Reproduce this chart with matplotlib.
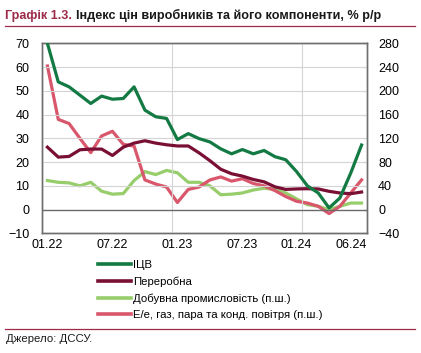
import numpy as np
import matplotlib
matplotlib.use('Agg')
import matplotlib.pyplot as plt
from matplotlib.lines import Line2D

plt.rcParams['font.family'] = ['Liberation Sans', 'DejaVu Sans']

months = ['01.22', '02.22', '03.22', '04.22', '05.22', '06.22', '07.22', '08.22', '09.22', '10.22',
          '11.22', '12.22', '01.23', '02.23', '03.23', '04.23', '05.23', '06.23', '07.23', '08.23',
          '09.23', '10.23', '11.23', '12.23', '01.24', '02.24', '03.24', '04.24', '05.24', '06.24']

# left axis
ppi = [70, 53.8, 51.7, 48.2, 44.7, 47.8, 46.5, 46.8, 51.7, 41.9, 39.1, 38.4, 29.5, 32, 29.9,
       28.5, 25.6, 23.5, 25.3, 23.5, 24.9, 22.3, 21, 16, 10, 7, 0.7, 4.9, 15.4, 27.2]
manuf = [26.3, 22.1, 22.4, 25.2, 25.5, 25.5, 22.8, 26.3, 28, 29, 28, 27.3, 26.8, 26.8, 23.9,
         20.6, 17, 15.1, 14.1, 12.7, 11.7, 9.6, 8.5, 8.7, 8.8, 8.7, 7.7, 7, 6.7, 7.4]
# right axis (п.ш.)
mining = [49, 46, 45, 40, 46, 31, 26, 27, 49, 64, 59, 66, 62, 46, 46, 40, 25, 26, 28, 33,
          36, 34, 28, 18, 8.4, 5.6, 0, 5.6, 11, 11]
energy = [242, 152, 145, 120, 96, 124, 132, 110, 107, 50, 43, 38, 12, 34, 38, 50, 55, 48, 52, 44,
          40, 32, 22, 14, 11, 5.6, -6.7, 5.6, 28, 50]

tick_idx = [0, 6, 12, 18, 23, 28]
tick_lbl = ['01.22', '07.22', '01.23', '07.23', '01.24', '06.24']

c_ppi = '#137a43'
c_man = '#7a0f35'
c_min = '#97cd6a'
c_en = '#d9576c'
c_frame = '#6e6e6e'
c_brand = '#9c2b4a'

fig = plt.figure(figsize=(4.21, 3.53), dpi=100)
ax = fig.add_axes([0.0998, 0.339, 0.7719, 0.538])
ax2 = ax.twinx()

x = np.arange(len(months))
lw = 2.3

ax.set_xlim(-0.5, len(months) - 0.5)
ax.set_ylim(-10, 70)
ax2.set_ylim(-40, 280)
ax.set_yticks(np.arange(-10, 71, 10))
ax2.set_yticks(np.arange(-40, 281, 40))

for v in np.arange(-10, 71, 10):
    if v == 0:
        ax.axhline(v, color='#6a6a6a', lw=1.0, zorder=1)
    else:
        ax.axhline(v, color='#d4d4d4', lw=0.8, zorder=0)
for b in [11.5, 23.5]:
    ax.axvline(b, color='#d4d4d4', lw=0.8, zorder=0)

ax2.plot(x, mining, color=c_min, lw=lw, solid_joinstyle='round', zorder=3)
ax2.plot(x, energy, color=c_en, lw=lw, solid_joinstyle='round', zorder=3)
ax.set_zorder(ax2.get_zorder() + 1)
ax.patch.set_visible(False)
ax.plot(x, manuf, color=c_man, lw=lw, solid_joinstyle='round', zorder=4)
ax.plot(x, ppi, color=c_ppi, lw=lw, solid_joinstyle='round', zorder=5)

ax.set_xticks(tick_idx)
ax.set_xticklabels(tick_lbl)
ax.tick_params(axis='x', length=0, labelsize=9, pad=4)
ax.tick_params(axis='y', length=0, labelsize=9, pad=9)
ax2.tick_params(axis='y', direction='in', length=3, color=c_frame, labelsize=9, pad=8)

for a in (ax, ax2):
    for s in a.spines.values():
        s.set_color(c_frame)
        s.set_linewidth(1.0)

handles = [Line2D([], [], color=c, lw=2.6) for c in (c_ppi, c_man, c_min, c_en)]
labels = ['ІЦВ', 'Переробна', 'Добувна промисловість (п.ш.)', 'Е/е, газ, пара та конд. повітря (п.ш.)']
fig.legend(handles, labels, loc='upper left', bbox_to_anchor=(0.233, 0.263), frameon=False,
           fontsize=8.2, handlelength=2.9, handletextpad=0.15, labelspacing=0.56, borderaxespad=0,
           borderpad=0)

t1 = fig.text(0.012, 0.955, 'Графік 1.3.', color=c_brand, fontsize=9.1, fontweight='bold', va='center')
fig.canvas.draw()
bb = t1.get_window_extent()
fig.text(bb.x1 / fig.bbox.width + 0.009, 0.955, 'Індекс цін виробників та його компоненти, % р/р',
         color='#1a1a1a', fontsize=9.1, fontweight='bold', va='center')
fig.add_artist(Line2D([0.012, 0.986], [0.926, 0.926], color=c_brand, lw=0.9))
fig.add_artist(Line2D([0.012, 0.986], [0.068, 0.068], color=c_brand, lw=0.9))
fig.text(0.014, 0.04, 'Джерело: ДССУ.', color='#1a1a1a', fontsize=8.2, va='center')

fig.savefig('out.png', dpi=100)
